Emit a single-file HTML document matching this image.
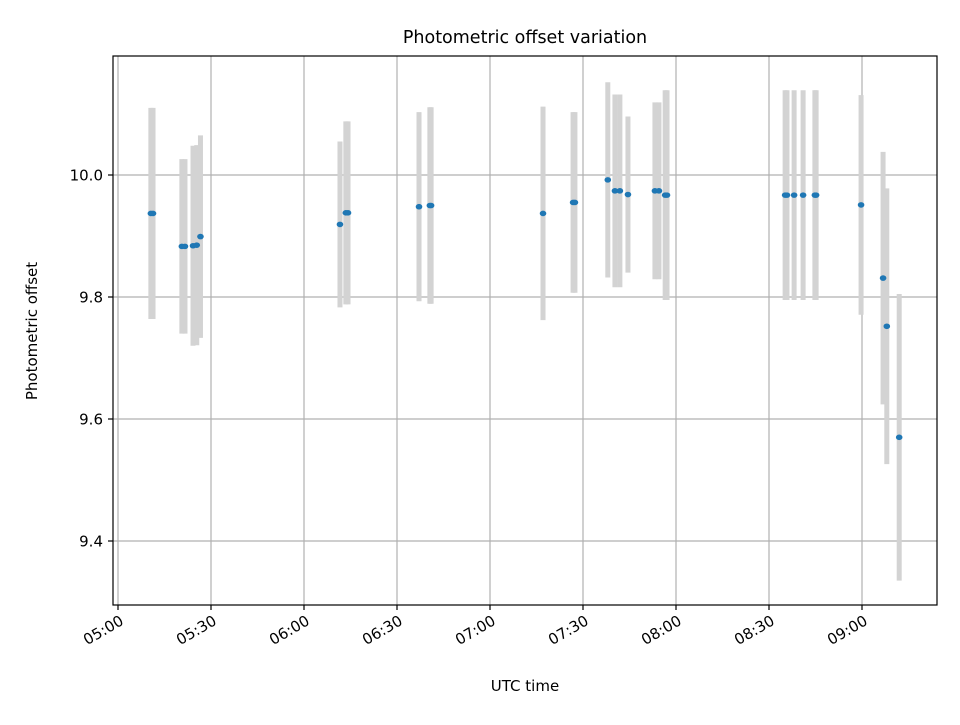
<!DOCTYPE html>
<html><head><meta charset="utf-8"><style>
body{margin:0;background:#fff}
svg text{font-family:"DejaVu Sans","Liberation Sans",sans-serif;fill:#000}
</style></head><body>
<svg id="chart" width="960" height="720" xmlns="http://www.w3.org/2000/svg">
<rect width="960" height="720" fill="#fff"/>
<g id="grid"></g>
<g id="errs"></g>
<g id="pts"></g>
<rect x="113" y="56" width="824" height="549" fill="none" stroke="#000" stroke-width="1.2"/>
<g id="axes"></g>
<text x="525" y="43" style="font-size:17.5px" text-anchor="middle">Photometric offset variation</text>
<text x="525" y="691" style="font-size:15px" text-anchor="middle">UTC time</text>
<text transform="translate(37,331) rotate(-90)" style="font-size:15px" text-anchor="middle">Photometric offset</text>
</svg>
<script>
// minutes after 05:00
const times = [10.6,11.3,20.6,21.6,24.2,25.4,26.6,71.6,73.5,74.2,97.1,100.6,101,137.1,146.8,147.4,158,160.3,161.9,164.5,173.2,174.5,176.5,177.1,215.2,215.8,218.1,221,224.8,225.2,239.7,246.8,248,252];
const values = [9.937,9.937,9.883,9.883,9.884,9.885,9.899,9.919,9.938,9.938,9.948,9.950,9.950,9.937,9.955,9.955,9.992,9.974,9.974,9.968,9.974,9.974,9.967,9.967,9.967,9.967,9.967,9.967,9.967,9.967,9.951,9.831,9.752,9.570];
const errors = [0.173,0.173,0.143,0.143,0.164,0.164,0.166,0.136,0.150,0.150,0.155,0.161,0.161,0.175,0.148,0.148,0.160,0.158,0.158,0.128,0.145,0.145,0.172,0.172,0.172,0.172,0.172,0.172,0.172,0.172,0.180,0.207,0.226,0.235];
const xTickLabels = ["05:00","05:30","06:00","06:30","07:00","07:30","08:00","08:30","09:00"];
const xTickMinutes = [0,30,60,90,120,150,180,210,240];
const yTicks = [9.4,9.6,9.8,10.0];

const NS="http://www.w3.org/2000/svg";
const xs = m => 118 + m*3.1;
const ys = v => 175 - (v-10.0)*610;
function mk(tag, attrs, parent){const e=document.createElementNS(NS,tag);for(const k in attrs)e.setAttribute(k,attrs[k]);parent.appendChild(e);return e;}
const grid=document.getElementById('grid'), axes=document.getElementById('axes');
xTickMinutes.forEach((m,i)=>{
  const x=xs(m);
  const g=mk('line',{x1:x,x2:x,y1:56,y2:605,stroke:'#b0b0b0','stroke-width':1.2},grid);
  
  
  const t=mk('line',{x1:x,x2:x,y1:605,y2:610,stroke:'#000','stroke-width':1.2},axes);
  
  
  const l=mk('text',{transform:`translate(${x+1},${614}) rotate(-30)`,style:'font-size:15px','text-anchor':'end',dy:'0.75em'},axes);
  l.textContent=xTickLabels[i];
  
  
});
yTicks.forEach(v=>{
  const y=ys(v);
  const g=mk('line',{x1:113,x2:937,y1:y,y2:y,stroke:'#b0b0b0','stroke-width':1.2},grid);
  
  
  const t=mk('line',{x1:108,x2:113,y1:y,y2:y,stroke:'#000','stroke-width':1.2},axes);
  
  
  const l=mk('text',{x:103,y:y+5.5,style:'font-size:15px','text-anchor':'end'},axes);
  l.textContent=v.toFixed(1);
  
  
});
const errs=document.getElementById('errs'), pts=document.getElementById('pts');
times.forEach((m,i)=>{
  const x=xs(m);
  const e=mk('line',{x1:x,x2:x,y1:ys(values[i]+errors[i]),y2:ys(values[i]-errors[i]),stroke:'#d3d3d3','stroke-width':5},errs);
  
  
});
times.forEach((m,i)=>{
  const p=mk('ellipse',{cx:xs(m),cy:ys(values[i]),rx:3.3,ry:2.8,fill:'#1f77b4'},pts);
  
  
});
</script>
</body></html>
